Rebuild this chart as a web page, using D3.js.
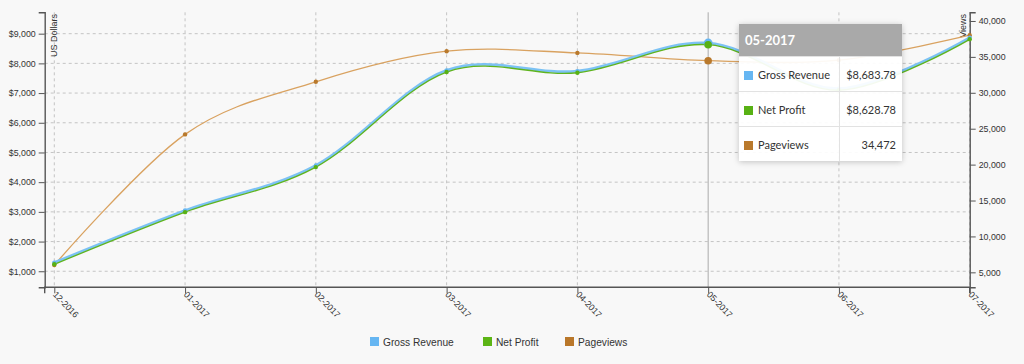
<!DOCTYPE html>
<html>
<head>
<meta charset="utf-8">
<script src="https://cdn.jsdelivr.net/npm/d3@7"></script>
<style>
  body { margin: 0; background: #f8f8f8; }
  #chart { position: relative; width: 1024px; height: 364px; }
  svg { position: absolute; left: 0; top: 0; font-family: "Liberation Sans", Arial, sans-serif; }
  .tip {
    position: absolute; left: 739px; top: 24px; width: 163px;
    background: rgba(255,255,255,0.93);
    box-shadow: 0 1px 6px rgba(0,0,0,0.22);
    font-family: Lato, "Open Sans", sans-serif; color: #333;
  }
  .tip table { border-collapse: collapse; width: 100%; }
  .tip th { background: rgba(160,160,160,0.9); color: #fff; font-size: 13px; font-weight: bold;
            text-align: left; height: 32px; padding: 0 0 0 6px; }
  .tip td { height: 34px; font-size: 11px; padding: 0; border-top: 1px solid #e2e2e2; }
  .tip td.val { text-align: right; padding-right: 6px; border-left: 1px solid #e2e2e2; }
  .tip .sw { display: inline-block; width: 9px; height: 9px; margin: 0 5px 0 5px; vertical-align: -1px; }
</style>
</head>
<body>
<div id="chart"></div>
<script>
var months = ['12-2016', '01-2017', '02-2017', '03-2017', '04-2017', '05-2017', '06-2017', '07-2017'];
var grossRevenue = [1290, 3045, 4562, 7764, 7740, 8683.78, 7150, 8865];
var netProfit = [1235, 2990, 4507, 7709, 7685, 8628.78, 7095, 8810];
var pageviews = [6014, 24208, 31528, 35790, 35555, 34472, 34550, 38014];
var dollarTicks = [1000, 2000, 3000, 4000, 5000, 6000, 7000, 8000, 9000];
var viewTicks = [5000, 10000, 15000, 20000, 25000, 30000, 35000, 40000];
var hoverIndex = 5;

var width = 1024, height = 364;
var plotLeft = 44.7, plotRight = 969.7, plotTop = 12.3, plotBottom = 287.3;

var svg = d3.select('#chart').append('svg')
  .attr('width', width)
  .attr('height', height);

var x = d3.scalePoint().domain(months).range([54.3, plotRight]);
var yL = d3.scaleLinear().domain([460, 9720]).range([plotBottom, plotTop]);
var yR = d3.scaleLinear().domain([2917, 41208]).range([plotBottom, plotTop]);

// grid
svg.append('g').selectAll('line').data(dollarTicks).enter().append('line')
  .attr('x1', plotLeft).attr('x2', plotRight)
  .attr('y1', d => yL(d)).attr('y2', d => yL(d))
  .style('stroke', '#c4c4c4').style('stroke-dasharray', '3,3');

svg.append('g').selectAll('line').data(months).enter().append('line')
  .attr('x1', d => x(d)).attr('x2', d => x(d))
  .attr('y1', plotTop).attr('y2', plotBottom)
  .style('stroke', (d, i) => i === hoverIndex ? '#aaa' : '#c4c4c4')
  .style('stroke-dasharray', (d, i) => i === hoverIndex ? null : '3,3');

// axes
var fmt = d3.format(',');
var gL = svg.append('g').attr('transform', 'translate(' + plotLeft + ',0)')
  .call(d3.axisLeft(yL).tickValues(dollarTicks).tickFormat(d => '$' + fmt(d)).tickSizeOuter(6));
var gR = svg.append('g').attr('transform', 'translate(' + plotRight + ',0)')
  .call(d3.axisRight(yR).tickValues(viewTicks).tickFormat(fmt).tickSizeOuter(6));
var gB = svg.append('g').attr('transform', 'translate(0,' + plotBottom + ')')
  .call(d3.axisBottom(x).tickSizeOuter(0));
gB.select('.domain').attr('d', 'M' + plotLeft + ',6V0H' + plotRight + 'V6');
gB.selectAll('.tick text')
  .attr('x', 4).attr('y', 4).attr('dy', '0.35em')
  .attr('transform', 'rotate(46)')
  .style('text-anchor', 'start');

[gL, gR, gB].forEach(function (g) {
  g.selectAll('.domain').style('stroke', '#555').style('stroke-width', 1.4);
  g.selectAll('.tick line').style('stroke', '#555');
  g.selectAll('text').style('font-size', '8.8px').style('fill', '#333')
    .style('font-family', '"Liberation Sans", Arial, sans-serif');
});

svg.append('text')
  .attr('transform', 'translate(56.5,14) rotate(-90)')
  .style('text-anchor', 'end').style('font-size', '9px').style('fill', '#333')
  .text('US Dollars');
svg.append('text')
  .attr('transform', 'translate(966,14) rotate(-90)')
  .style('text-anchor', 'end').style('font-size', '9px').style('fill', '#333')
  .text('Views');

// lines
var series = [
  {name: 'Pageviews', values: pageviews, y: yR, line: '#d9a260', dot: '#b9792c', w: 1.3, fmt: d3.format(',')},
  {name: 'Gross Revenue', values: grossRevenue, y: yL, line: '#7cc2f4', dot: '#66b6f2', w: 2.8, fmt: d3.format('$,.2f')},
  {name: 'Net Profit', values: netProfit, y: yL, line: '#5fb41e', dot: '#58b114', w: 1.3, fmt: d3.format('$,.2f')}
];

series.forEach(function (s) {
  var line = d3.line()
    .x((d, i) => x(months[i]))
    .y(d => s.y(d))
    .curve(d3.curveCardinal);
  svg.append('path')
    .attr('d', line(s.values))
    .style('fill', 'none')
    .style('stroke', s.line)
    .style('stroke-width', s.w);
});

series.forEach(function (s) {
  svg.append('g').selectAll('circle').data(s.values).enter().append('circle')
    .attr('cx', (d, i) => x(months[i]))
    .attr('cy', d => s.y(d))
    .attr('r', (d, i) => i === hoverIndex ? (s.name === 'Gross Revenue' ? 4.5 : 3.8) : 2.2)
    .style('fill', s.dot);
});

// legend
var legendItems = [
  {name: 'Gross Revenue', color: '#66b6f2', x: 370},
  {name: 'Net Profit', color: '#5cb515', x: 483},
  {name: 'Pageviews', color: '#b9772a', x: 565}
];
var lg = svg.append('g').selectAll('g').data(legendItems).enter().append('g')
  .attr('transform', d => 'translate(' + d.x + ',337)');
lg.append('rect').attr('width', 9).attr('height', 9).style('fill', d => d.color);
lg.append('text').attr('x', 13).attr('y', 8.5)
  .style('font-size', '10.2px').style('fill', '#333')
  .text(d => d.name);

// tooltip for the hovered month
var tipRows = [series[1], series[2], series[0]];
var tip = d3.select('#chart').append('div').attr('class', 'tip');
var table = tip.append('table');
table.append('tr').append('th').attr('colspan', 2).text(months[hoverIndex]);
var rows = table.selectAll('tr.row').data(tipRows).enter().append('tr').attr('class', 'row');
var c1 = rows.append('td');
c1.append('span').attr('class', 'sw').style('background', d => d.dot);
c1.append('span').text(d => d.name);
rows.append('td').attr('class', 'val').text(d => d.fmt(d.values[hoverIndex]));
</script>
</body>
</html>
